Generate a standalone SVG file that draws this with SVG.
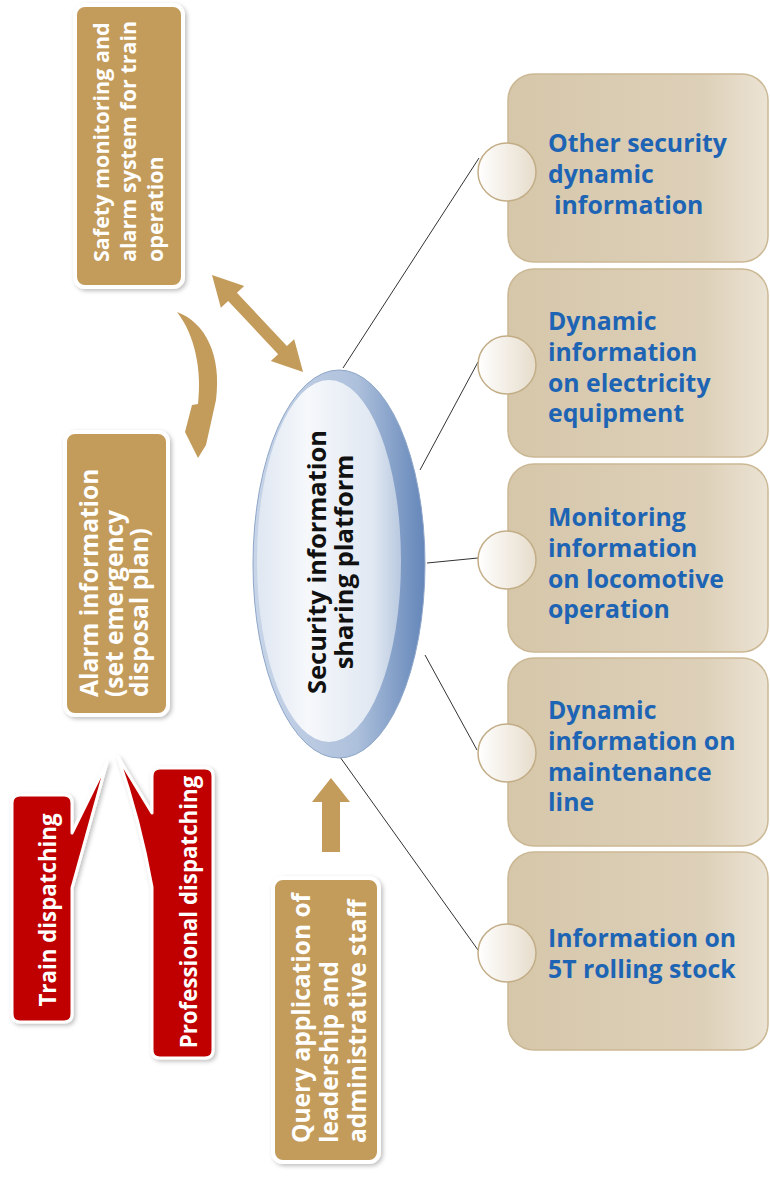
<svg xmlns="http://www.w3.org/2000/svg" width="770" height="1177" viewBox="0 0 770 1177">
<defs>
<style>
.gold{fill:#c39b5a;stroke:#ffffff;stroke-width:4;filter:url(#sh)}
.red{fill:#c00000;stroke:#ffffff;stroke-width:3;stroke-linejoin:round;filter:url(#sh)}
.wt{fill:#ffffff;font-family:"Open Sans","Liberation Sans",sans-serif;font-weight:bold;font-size:21.5px}
.wa{font-size:24.5px}
.wq{font-size:24.5px}
.wr{font-size:22.3px}
.bt{fill:#1e64b4;font-family:"Open Sans","Liberation Sans",sans-serif;font-weight:bold;font-size:24.8px}
.ct{fill:#111111;font-family:"Open Sans","Liberation Sans",sans-serif;font-weight:bold;font-size:25.5px}
.box{fill:url(#bg);stroke:#cbb894;stroke-width:1.5}
.knob{fill:url(#kg);stroke:#c2ad86;stroke-width:1.5}
.arr{fill:#c39b5a}
.ln{stroke:#333333;stroke-width:1;fill:none}
</style>
<filter id="sh" x="-20%" y="-20%" width="140%" height="140%">
<feDropShadow dx="2" dy="2" stdDeviation="2" flood-color="#000000" flood-opacity="0.25"/>
</filter>
<linearGradient id="bg" x1="0" y1="0" x2="1" y2="0">
<stop offset="0" stop-color="#d6c7aa"/>
<stop offset="0.75" stop-color="#ddd0b8"/>
<stop offset="1" stop-color="#ebe3d4"/>
</linearGradient>
<linearGradient id="kg" x1="0" y1="0" x2="1" y2="0">
<stop offset="0" stop-color="#ffffff"/>
<stop offset="1" stop-color="#e6dccb"/>
</linearGradient>
<linearGradient id="eo" x1="0" y1="0" x2="1" y2="0">
<stop offset="0" stop-color="#c8d5e8"/>
<stop offset="0.6" stop-color="#aec1dc"/>
<stop offset="1" stop-color="#6486b9"/>
</linearGradient>
<linearGradient id="ei" x1="0" y1="0" x2="1" y2="0">
<stop offset="0" stop-color="#dfe7f2"/>
<stop offset="0.35" stop-color="#f6f8fb"/>
<stop offset="0.8" stop-color="#e1e8f2"/>
<stop offset="1" stop-color="#b9c9e0"/>
</linearGradient>
</defs>

<g id="connectors">
<line class="ln" x1="343" y1="368" x2="479" y2="158"/>
<line class="ln" x1="420" y1="470" x2="478" y2="362"/>
<line class="ln" x1="427" y1="563" x2="478" y2="558"/>
<line class="ln" x1="425" y1="655" x2="477" y2="750"/>
<line class="ln" x1="340" y1="757" x2="478" y2="950"/>
<polygon class="arr" transform="translate(212,275) rotate(46.8)" points="0,0 30,-16 30,-6 103,-6 103,-16 133,0 103,16 103,6 30,6 30,16"/>
<path class="arr" d="M177,312 C205,322 222,355 216,400 L206,445 L198,458 L185,432 L192,405 L198,404 C202,370 195,335 177,312 Z"/>
<polygon class="arr" points="331,778 350,802 340,802 340,852 322,852 322,802 312,802"/>
</g>

<g id="node-safety">
<rect class="gold" x="75" y="5" width="108" height="282" rx="10"/>
<text class="wt" transform="translate(109,262) rotate(-90)">Safety monitoring and</text>
<text class="wt" transform="translate(136,262) rotate(-90)">alarm system for train</text>
<text class="wt" transform="translate(163,262) rotate(-90)">operation</text>
</g>

<g id="node-alarm">
<rect class="gold" x="65" y="432" width="103" height="283" rx="10"/>
<text class="wt wa" transform="translate(98,697) rotate(-90)">Alarm information</text>
<text class="wt wa" transform="translate(123,697) rotate(-90)">(set emergency</text>
<text class="wt wa" transform="translate(148,697) rotate(-90)">disposal plan)</text>
</g>

<g id="node-train">
<path class="red" d="M20,795 L64,795 Q72,795 72,803 L72,833 L107,762 L72,888 L72,1014 Q72,1022 64,1022 L20,1022 Q12,1022 12,1014 L12,803 Q12,795 20,795 Z"/>
<text class="wt wr" transform="translate(56,910) rotate(-90)" text-anchor="middle">Train dispatching</text>
</g>

<g id="node-professional">
<path class="red" d="M160,768 L205,768 Q213,768 213,776 L213,1050 Q213,1058 205,1058 L160,1058 Q152,1058 152,1050 L152,887 Q140,820 118,757 L152,813 L152,776 Q152,768 160,768 Z"/>
<text class="wt wr" transform="translate(197,912) rotate(-90)" text-anchor="middle">Professional dispatching</text>
</g>

<g id="node-query">
<rect class="gold" x="273" y="878" width="106" height="284" rx="10"/>
<text class="wt wq" transform="translate(310,1143) rotate(-90)">Query application of</text>
<text class="wt wq" transform="translate(338,1143) rotate(-90)">leadership and</text>
<text class="wt wq" transform="translate(366,1143) rotate(-90)">administrative staff</text>
</g>

<g id="node-platform">
<ellipse cx="339" cy="564" rx="86" ry="194" fill="url(#eo)" stroke="#8ea6c9" stroke-width="1"/>
<ellipse cx="329" cy="561" rx="72" ry="181" fill="url(#ei)"/>
<text class="ct" transform="translate(326,562) rotate(-90)" text-anchor="middle">Security information</text>
<text class="ct" transform="translate(353,562) rotate(-90)" text-anchor="middle">sharing platform</text>
</g>

<g id="node-other">
<rect class="box" x="508" y="74" width="260" height="188" rx="26"/>
<circle class="knob" cx="507" cy="172" r="29"/>
<text class="bt" x="548" y="152">Other security</text>
<text class="bt" x="548" y="183">dynamic</text>
<text class="bt" x="554" y="214">information</text>
</g>

<g id="node-electricity">
<rect class="box" x="508" y="269" width="260" height="188" rx="26"/>
<circle class="knob" cx="507" cy="365" r="29"/>
<text class="bt" x="548" y="330">Dynamic</text>
<text class="bt" x="548" y="361">information</text>
<text class="bt" x="548" y="392">on electricity</text>
<text class="bt" x="548" y="422">equipment</text>
</g>

<g id="node-locomotive">
<rect class="box" x="508" y="464" width="260" height="188" rx="26"/>
<circle class="knob" cx="507" cy="560" r="29"/>
<text class="bt" x="548" y="526">Monitoring</text>
<text class="bt" x="548" y="557">information</text>
<text class="bt" x="548" y="588">on locomotive</text>
<text class="bt" x="548" y="618">operation</text>
</g>

<g id="node-maintenance">
<rect class="box" x="508" y="658" width="260" height="188" rx="26"/>
<circle class="knob" cx="507" cy="753" r="29"/>
<text class="bt" x="548" y="719">Dynamic</text>
<text class="bt" x="548" y="750">information on</text>
<text class="bt" x="548" y="781">maintenance</text>
<text class="bt" x="548" y="811">line</text>
</g>

<g id="node-5t">
<rect class="box" x="508" y="852" width="260" height="198" rx="26"/>
<circle class="knob" cx="507" cy="953" r="29"/>
<text class="bt" x="548" y="947">Information on</text>
<text class="bt" x="548" y="978">5T rolling stock</text>
</g>
</svg>
